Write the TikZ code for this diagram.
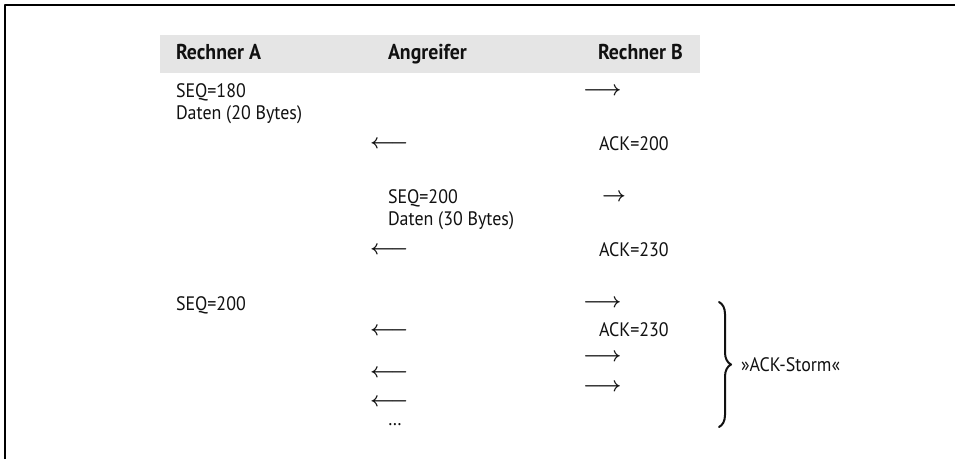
\documentclass[tikz,border=0pt]{standalone}
\usepackage{fontspec}
\setmainfont{PT Sans}[FakeStretch=0.92]
\usepackage{tikz}
\usetikzlibrary{positioning,decorations.pathreplacing}
\definecolor{headgray}{HTML}{E5E5E5}
\definecolor{ink}{HTML}{111111}
\tikzset{
    every picture/.style={line cap=round,line join=round},
    cell/.style={anchor=base west,inner sep=0pt,outer sep=0pt,text=ink,
      font=\fontsize{19.5}{23}\selectfont},
    headcell/.style={cell,font=\fontsize{21.5}{25}\selectfont\bfseries},
    msgarrow/.style={anchor=west,inner sep=0pt,outer sep=0pt,text=ink,
      font=\fontsize{22}{25}\selectfont\boldmath},
    stormbrace/.style={decorate,decoration={brace,amplitude=12pt},
      draw=ink,line width=2pt},
    stormlabel/.style={cell,anchor=west}
}

\begin{document}
\begin{tikzpicture}[x=1pt,y=-1pt]
  \useasboundingbox (0,0) rectangle (955,459);
  \draw[line width=2.5pt,line cap=butt] (5,459) -- (5,5) -- (955,5);
  \fill[headgray] (160,35) rectangle (700,73);
  \node[headcell] (ha) at (176,59) {Rechner A};
  \node[headcell] (hx) at (388,59) {Angreifer};
  \node[headcell] (hb) at (598,59) {Rechner B};
  \node[cell] (seq1) at (176,97) {SEQ=180};
  \node[cell] (dat1) at (176,119) {Daten (20 Bytes)};
  \node[msgarrow] (r1) at (583,91) {$\longrightarrow$};
  \node[msgarrow] (l1) at (370,144) {$\longleftarrow$};
  \node[cell] (ack1) at (599,150) {ACK=200};
  \node[cell] (seq2) at (388,203) {SEQ=200};
  \node[cell] (dat2) at (388,225) {Daten (30 Bytes)};
  \node[msgarrow] (r2) at (602,197) {$\rightarrow$};
  \node[msgarrow] (l2) at (370,250) {$\longleftarrow$};
  \node[cell] (ack2) at (599,256) {ACK=230};
  \node[cell] (seq3) at (176,310) {SEQ=200};
  \node[msgarrow] (r3) at (583,303) {$\longrightarrow$};
  \node[msgarrow] (l3) at (370,331) {$\longleftarrow$};
  \node[cell] (ack3) at (599,336) {ACK=230};
  \node[msgarrow] (r4) at (583,357) {$\longrightarrow$};
  \node[msgarrow] (l4) at (370,373) {$\longleftarrow$};
  \node[msgarrow] (r5) at (583,387) {$\longrightarrow$};
  \node[msgarrow] (l5) at (370,402) {$\longleftarrow$};
  \node[cell] (more) at (388,425) {\dots};
  \coordinate (stormtop) at (719,302);
  \coordinate (stormbot) at (719,427);
  \draw[stormbrace] (stormtop) -- node[stormlabel,right=22pt] (storm) {»ACK-Storm«} (stormbot);
\end{tikzpicture}
\end{document}
